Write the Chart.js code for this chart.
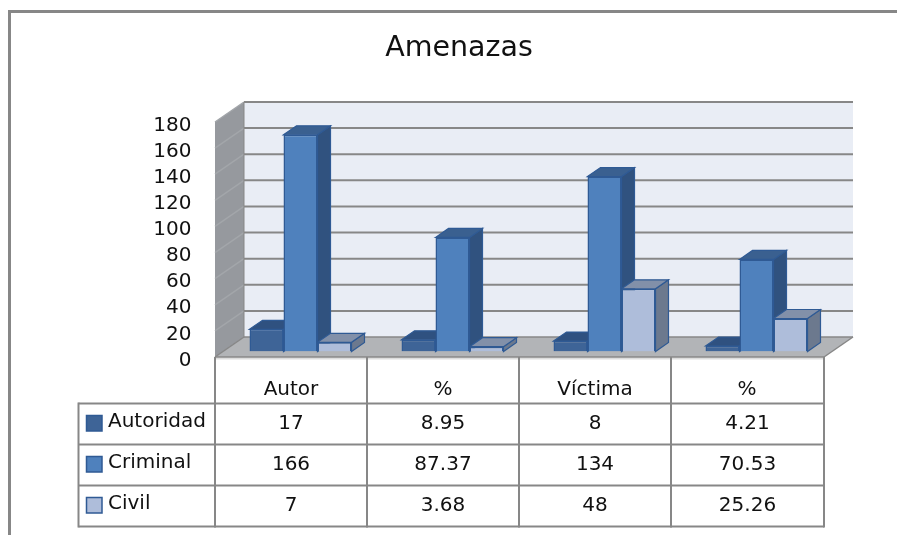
<!DOCTYPE html>
<html>
<head>
<meta charset="utf-8">
<style>html,body{margin:0;padding:0;background:#fff}canvas{display:block}</style>
<script src="https://cdn.jsdelivr.net/npm/chart.js@4/dist/chart.umd.js"></script>
</head>
<body>
<canvas id="c" width="897" height="535"></canvas>
<script>
const categories = ['Autor', '%', 'Víctima', '%'];
const seriesNames = ['Autoridad', 'Criminal', 'Civil'];
const autoridad = [17, 8.95, 8, 4.21];
const criminal = [166, 87.37, 134, 70.53];
const civil = [7, 3.68, 48, 25.26];
const frontColors = ['#3E6497', '#4F81BD', '#AEBDDA'];
const sideColors = ['#30527F', '#30527F', '#6C798E'];
const topColors = ['#2F5180', '#3A6090', '#8290A9'];
const FONT = '"DejaVu Sans"';
const TEXT = '#111111', LINE = '#878787', BAR_EDGE = '#2F5A94';

// 3-D offsets relative to the bar plane
const BAR_D = {x: 13, y: 9};
const WALL = {x: 19.5, y: 14.5};
const FRONT = {x: -9.5, y: 5.5};

function poly(ctx, pts, fill, stroke, lw) {
  ctx.beginPath();
  pts.forEach((p, i) => i ? ctx.lineTo(p[0], p[1]) : ctx.moveTo(p[0], p[1]));
  ctx.closePath();
  if (fill) { ctx.fillStyle = fill; ctx.fill(); }
  if (stroke) { ctx.strokeStyle = stroke; ctx.lineWidth = lw || 1; ctx.stroke(); }
}
function seg(ctx, x1, y1, x2, y2, color, lw) {
  ctx.beginPath(); ctx.moveTo(x1, y1); ctx.lineTo(x2, y2);
  ctx.strokeStyle = color; ctx.lineWidth = lw; ctx.stroke();
}

const scene = {
  id: 'scene',
  beforeDatasetsDraw(chart) {
    const {ctx, scales: {x, y}, chartArea: a} = chart;
    const y0 = y.getPixelForValue(0), yM = y.getPixelForValue(y.max);
    const fl = a.left + FRONT.x, fr = a.right + FRONT.x + 1;
    const bl = a.left + WALL.x, br = a.right + WALL.x + 1;
    ctx.save();
    // frame of the picture
    seg(ctx, 8, 11.5, chart.width, 11.5, LINE, 3);
    seg(ctx, 9.5, 10, 9.5, chart.height, LINE, 3);
    // back wall
    poly(ctx, [[bl, yM - WALL.y], [br, yM - WALL.y], [br, y0 - WALL.y], [bl, y0 - WALL.y]], '#E9EDF5');
    // left wall
    poly(ctx, [[fl, yM + FRONT.y], [bl, yM - WALL.y], [bl, y0 - WALL.y], [fl, y0 + FRONT.y]], '#96999E');
    // floor
    poly(ctx, [[fl, y0 + FRONT.y], [fr, y0 + FRONT.y], [br, y0 - WALL.y], [bl, y0 - WALL.y]], '#B2B4B7');
    // gridlines
    y.ticks.forEach(t => {
      const py = y.getPixelForValue(t.value);
      seg(ctx, bl, py - WALL.y, br, py - WALL.y, LINE, t.value === 0 ? 1.5 : 2);
      seg(ctx, fl, py + FRONT.y, bl, py - WALL.y, t.value === 0 ? LINE : '#A3A6AA', 1.5);
    });
    seg(ctx, bl, yM - WALL.y, bl, y0 - WALL.y, LINE, 1);
    seg(ctx, fr, y0 + FRONT.y, br, y0 - WALL.y, LINE, 1.5);
    // depth faces of the bars: left series first, so later ones overlap
    chart.data.datasets.forEach((ds, i) => {
      chart.getDatasetMeta(i).data.forEach(b => {
        const L = b.x - b.width / 2, R = b.x + b.width / 2, T = b.y, B = b.base;
        const dx = BAR_D.x, dy = BAR_D.y;
        poly(ctx, [[R, T], [R + dx, T - dy], [R + dx, B - dy], [R, B]], sideColors[i], BAR_EDGE, 1.2);
        poly(ctx, [[L, T], [L + dx, T - dy], [R + dx, T - dy], [R, T]], topColors[i], BAR_EDGE, 1.2);
      });
    });
    ctx.restore();
  },
  afterDatasetsDraw(chart) {
    const {ctx, scales: {x, y}, chartArea: a} = chart;
    const rowLines = [403.5, 444.5, 485.5, 526.5];
    const y0 = y.getPixelForValue(0) + FRONT.y;
    const cols = [];
    categories.forEach((c, i) => cols.push(x.getPixelForTick(i) - x.width / categories.length / 2 + FRONT.x));
    cols.push(a.right + FRONT.x + 1);
    const leftEdge = 78.5;
    ctx.save();
    seg(ctx, cols[0], y0 + 1.5, cols[4], y0 + 1.5, '#DDDDDD', 2);
    seg(ctx, cols[0], y0, cols[4], y0, LINE, 1.5);
    cols.forEach(cx => seg(ctx, cx, y0, cx, rowLines[3] + 1, LINE, 2));
    rowLines.forEach(ry => seg(ctx, leftEdge, ry, cols[4], ry, LINE, 2));
    seg(ctx, leftEdge, rowLines[0] - 1, leftEdge, rowLines[3] + 1, LINE, 2);
    // legend keys, names and cell values
    ctx.font = '20px ' + FONT;
    ctx.textBaseline = 'middle';
    chart.data.datasets.forEach((ds, r) => {
      const cy = (rowLines[r] + rowLines[r + 1]) / 2;
      ctx.fillStyle = frontColors[r];
      ctx.fillRect(86.5, cy - 8.5, 15.5, 15.5);
      ctx.strokeStyle = BAR_EDGE; ctx.lineWidth = 1.5;
      ctx.strokeRect(86.5, cy - 8.5, 15.5, 15.5);
      ctx.fillStyle = TEXT;
      ctx.textAlign = 'left';
      ctx.fillText(ds.label, 108, cy - 2);
      ctx.textAlign = 'center';
      ds.data.forEach((v, c) => ctx.fillText(String(v), (cols[c] + cols[c + 1]) / 2, cy));
    });
    ctx.restore();
  }
};

new Chart(document.getElementById('c'), {
  type: 'bar',
  data: {
    labels: categories,
    datasets: [autoridad, criminal, civil].map((d, i) => ({
      label: seriesNames[i], data: d,
      backgroundColor: frontColors[i], borderColor: BAR_EDGE, borderWidth: 1.5,
      barPercentage: 1, categoryPercentage: 0.671
    }))
  },
  options: {
    responsive: false,
    animation: false,
    layout: {padding: {left: 85.5, right: 64.5, top: 0, bottom: 0}},
    plugins: {
      legend: {display: false},
      tooltip: {enabled: false},
      title: {
        display: true, text: 'Amenazas', color: '#111',
        font: {family: FONT, size: 28.5, weight: 'normal', lineHeight: 1.2},
        padding: {top: 31, bottom: 51.3}
      }
    },
    scales: {
      x: {
        grid: {display: false, drawTicks: false},
        border: {display: false},
        afterFit(s) { s.height = 183.5; },
        ticks: {
          color: TEXT, font: {family: FONT, size: 20}, padding: 26,
          labelOffset: -9.5, maxRotation: 0, autoSkip: false
        }
      },
      y: {
        min: 0, max: 180,
        grid: {display: false, drawTicks: false},
        border: {display: false},
        afterFit(s) { s.width = 139; },
        ticks: {
          stepSize: 20, autoSkip: false, color: TEXT, font: {family: FONT, size: 20},
          padding: 33, labelOffset: 9
        }
      }
    }
  },
  plugins: [scene]
});
</script>
</body>
</html>
